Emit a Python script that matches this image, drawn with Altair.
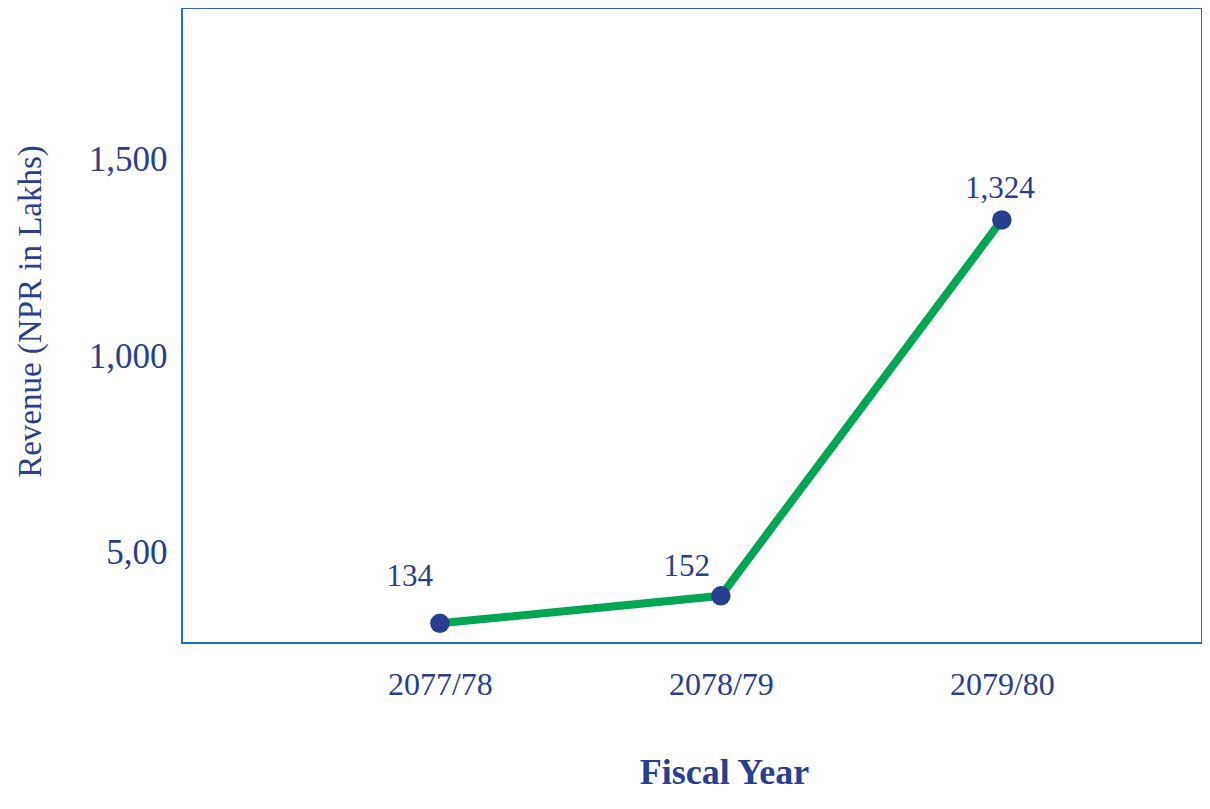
import altair as alt
import pandas as pd

# Data
years = ["2077/78", "2078/79", "2079/80"]
revenue_plotted = [321, 391, 1347]          # vertical position of each point on the drawn axis
revenue_labels = ["134", "152", "1,324"]    # printed value labels
y_ticks = [500, 1000, 1500]

df = pd.DataFrame({"year": years, "revenue": revenue_plotted, "label": revenue_labels})

TEXT = "#273f8e"
GREEN = "#00a651"
FRAME = "#1f6fc0"
FONT = "Liberation Serif"

x_enc = alt.X(
    "year:N",
    sort=years,
    scale=alt.Scale(type="point", padding=0.815, align=0.563),
    axis=alt.Axis(
        title="Fiscal Year",
        titleFont=FONT, titleFontSize=36, titleFontWeight="bold", titleColor=TEXT,
        titleX=542, titleY=140, titleBaseline="alphabetic", titleAlign="center",
        labelFont=FONT, labelFontSize=32, labelColor=TEXT, labelPadding=26,
        labelAngle=0, ticks=False, domain=False, grid=False,
    ),
)
y_enc = alt.Y(
    "revenue:Q",
    scale=alt.Scale(domain=[271, 1886], nice=False, zero=False),
    axis=alt.Axis(
        title="Revenue (NPR in Lakhs)",
        titleFont=FONT, titleFontSize=33, titleFontWeight="normal", titleColor=TEXT,
        titleX=-142, titleY=303, titleBaseline="alphabetic", titleAlign="center", titleAngle=-90,
        values=y_ticks,
        labelExpr="datum.value == 500 ? '5,00\u00a0\u00a0' : format(datum.value, ',')",
        labelFont=FONT, labelFontSize=35, labelColor=TEXT, labelPadding=15,
        ticks=False, domain=False, grid=False,
    ),
)

base = alt.Chart(df).encode(x=x_enc, y=y_enc)

line = base.mark_line(color=GREEN, strokeWidth=8)
points = base.mark_circle(color=TEXT, size=380, opacity=1)

label_offsets = {"2077/78": (-30, -46), "2078/79": (-34, -29), "2079/80": (-2, -31)}
texts = []
for yr in years:
    dx, dy = label_offsets[yr]
    texts.append(
        base.transform_filter(alt.datum.year == yr)
        .mark_text(font=FONT, fontSize=31, color=TEXT, dx=dx, dy=dy, baseline="middle", align="center")
        .encode(text="label:N")
    )

chart = alt.layer(line, points, *texts).properties(
    width=1020,
    height=635,
    autosize=alt.AutoSizeParams(type="none"),
    padding={"left": 174, "top": 0, "right": 0, "bottom": 150},
).configure(
    background="white",
    view=alt.ViewConfig(stroke=FRAME, strokeWidth=2),
)

chart.save("out.html", embed_options={"renderer": "svg", "actions": False})
